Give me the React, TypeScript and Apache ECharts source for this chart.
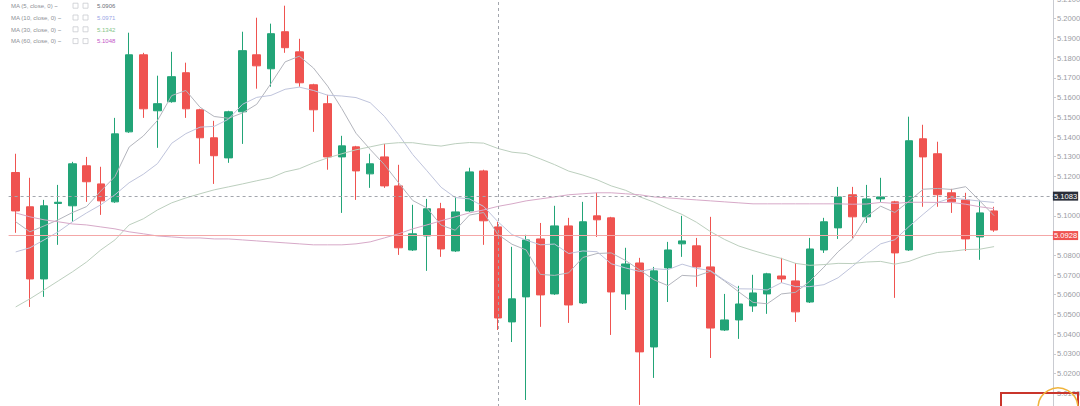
import React, { useEffect, useRef } from "react";
import * as echarts from "echarts";

// ---- data ----
const categories = Array.from({ length: 74 }, (_, i) => `D${i + 1}`);

const opens = [
  5.1220, 5.1046, 5.0680, 5.1063, 5.1051, 5.1254, 5.1162, 5.1071, 5.1426, 5.1817,
  5.1533, 5.1579, 5.1726, 5.1538, 5.1396, 5.1294, 5.1528, 5.1817, 5.1746, 5.1934,
  5.1832, 5.1665, 5.1569, 5.1299, 5.1350, 5.1213, 5.1299, 5.1152, 5.0827, 5.0898,
  5.1036, 5.0822, 5.1025, 5.1228, 5.0944, 5.0462, 5.0589, 5.0883, 5.0604, 5.0949,
  5.0558, 5.1000, 5.0990, 5.0604, 5.0761, 5.0335, 5.0736, 5.0858, 5.0848, 5.0741,
  5.0421, 5.0472, 5.0543, 5.0604, 5.0695, 5.0670, 5.0563, 5.0827, 5.0939, 5.1107,
  5.0995, 5.1086, 5.1071, 5.0827, 5.1391, 5.1315, 5.1117, 5.1081, 5.0893, 5.1025,
];
const closes = [
  5.1025, 5.0680, 5.1051, 5.1069, 5.1264, 5.1173, 5.1076, 5.1416, 5.1817, 5.1543,
  5.1569, 5.1706, 5.1543, 5.1396, 5.1305, 5.1528, 5.1838, 5.1761, 5.1924, 5.1853,
  5.1675, 5.1538, 5.1299, 5.1355, 5.1228, 5.1264, 5.1152, 5.0838, 5.0909, 5.1036,
  5.0832, 5.1020, 5.1223, 5.0975, 5.0482, 5.0579, 5.0878, 5.0599, 5.0949, 5.0548,
  5.0970, 5.0980, 5.0614, 5.0756, 5.0310, 5.0721, 5.0827, 5.0873, 5.0741, 5.0431,
  5.0472, 5.0553, 5.0609, 5.0706, 5.0680, 5.0513, 5.0832, 5.0970, 5.1096, 5.0995,
  5.1086, 5.1096, 5.0812, 5.1381, 5.1299, 5.1107, 5.1071, 5.0883, 5.1015, 5.0928,
];
const lows = [
  5.0914, 5.0538, 5.0589, 5.0853, 5.0970, 5.1071, 5.1005, 5.1066, 5.1421, 5.1497,
  5.1345, 5.1574, 5.1497, 5.1264, 5.1162, 5.1269, 5.1365, 5.1645, 5.1655, 5.1827,
  5.1655, 5.1426, 5.1234, 5.1015, 5.1081, 5.1142, 5.1142, 5.0802, 5.0822, 5.0721,
  5.0792, 5.0817, 5.1020, 5.0853, 5.0421, 5.0360, 5.0066, 5.0437, 5.0599, 5.0457,
  5.0553, 5.0893, 5.0396, 5.0523, 5.0041, 5.0178, 5.0563, 5.0792, 5.0640, 5.0279,
  5.0416, 5.0376, 5.0513, 5.0503, 5.0660, 5.0462, 5.0558, 5.0812, 5.0883, 5.0888,
  5.0964, 5.1071, 5.0584, 5.0822, 5.1046, 5.1046, 5.1015, 5.0822, 5.0777, 5.0919,
];
const highs = [
  5.1315, 5.1193, 5.1081, 5.1157, 5.1274, 5.1299, 5.1249, 5.1497, 5.1929, 5.1827,
  5.1711, 5.1832, 5.1777, 5.1543, 5.1482, 5.1533, 5.1934, 5.2005, 5.1975, 5.2066,
  5.1898, 5.1670, 5.1614, 5.1406, 5.1355, 5.1315, 5.1365, 5.1259, 5.1056, 5.1086,
  5.1066, 5.1096, 5.1244, 5.1234, 5.0970, 5.0843, 5.0904, 5.0964, 5.1051, 5.0990,
  5.1071, 5.1117, 5.0995, 5.0838, 5.0787, 5.0741, 5.0868, 5.1000, 5.0888, 5.0995,
  5.0604, 5.0645, 5.0701, 5.0711, 5.0787, 5.0761, 5.0888, 5.0990, 5.1147, 5.1147,
  5.1157, 5.1193, 5.1076, 5.1503, 5.1462, 5.1376, 5.1137, 5.1117, 5.1081, 5.1046,
];

const ma5 = [
  5.0970, 5.0919, 5.0949, 5.0980, 5.1017, 5.1047, 5.1126, 5.1199, 5.1349, 5.1405,
  5.1484, 5.1610, 5.1636, 5.1551, 5.1504, 5.1495, 5.1522, 5.1566, 5.1671, 5.1781,
  5.1810, 5.1750, 5.1658, 5.1544, 5.1419, 5.1337, 5.1260, 5.1168, 5.1078, 5.1040,
  5.0953, 5.0927, 5.1004, 5.1017, 5.0906, 5.0856, 5.0827, 5.0703, 5.0698, 5.0711,
  5.0789, 5.0809, 5.0812, 5.0774, 5.0726, 5.0676, 5.0646, 5.0698, 5.0694, 5.0719,
  5.0669, 5.0614, 5.0561, 5.0554, 5.0604, 5.0612, 5.0668, 5.0740, 5.0818, 5.0881,
  5.0996, 5.1049, 5.1017, 5.1074, 5.1135, 5.1139, 5.1134, 5.1148, 5.1075, 5.1001,
];
const ma10 = [
  5.0817, 5.0838, 5.0878, 5.0919, 5.0970, 5.1015, 5.1056, 5.1107, 5.1168, 5.1211,
  5.1265, 5.1368, 5.1417, 5.1450, 5.1454, 5.1490, 5.1566, 5.1601, 5.1611, 5.1642,
  5.1653, 5.1636, 5.1612, 5.1608, 5.1600, 5.1574, 5.1505, 5.1413, 5.1311, 5.1229,
  5.1145, 5.1093, 5.1086, 5.1048, 5.0971, 5.0905, 5.0877, 5.0853, 5.0857, 5.0809,
  5.0822, 5.0818, 5.0757, 5.0736, 5.0718, 5.0732, 5.0727, 5.0755, 5.0734, 5.0722,
  5.0673, 5.0630, 5.0629, 5.0624, 5.0661, 5.0641, 5.0641, 5.0651, 5.0686, 5.0743,
  5.0804, 5.0858, 5.0879, 5.0946, 5.1008, 5.1068, 5.1091, 5.1083, 5.1075, 5.1068,
];
const ma30 = [
  5.0538, 5.0579, 5.0624, 5.0670, 5.0716, 5.0766, 5.0827, 5.0878, 5.0954, 5.0985,
  5.1030, 5.1066, 5.1091, 5.1112, 5.1132, 5.1147, 5.1162, 5.1178, 5.1193, 5.1223,
  5.1239, 5.1269, 5.1294, 5.1315, 5.1335, 5.1350, 5.1365, 5.1371, 5.1371, 5.1361,
  5.1354, 5.1366, 5.1372, 5.1369, 5.1342, 5.1323, 5.1316, 5.1289, 5.1260, 5.1227,
  5.1207, 5.1183, 5.1152, 5.1130, 5.1097, 5.1070, 5.1037, 5.1007, 5.0968, 5.0920,
  5.0880, 5.0847, 5.0824, 5.0803, 5.0784, 5.0759, 5.0749, 5.0753, 5.0759, 5.0758,
  5.0766, 5.0769, 5.0755, 5.0769, 5.0796, 5.0814, 5.0820, 5.0829, 5.0831, 5.0844,
];
const ma60 = [
  5.1015, 5.0995, 5.0980, 5.0970, 5.0959, 5.0954, 5.0944, 5.0934, 5.0919, 5.0909,
  5.0898, 5.0893, 5.0888, 5.0888, 5.0883, 5.0883, 5.0878, 5.0873, 5.0868, 5.0863,
  5.0858, 5.0853, 5.0853, 5.0853, 5.0858, 5.0868, 5.0888, 5.0909, 5.0934, 5.0954,
  5.0975, 5.0995, 5.1015, 5.1030, 5.1048, 5.1061, 5.1076, 5.1086, 5.1096, 5.1107,
  5.1112, 5.1117, 5.1117, 5.1112, 5.1107, 5.1096, 5.1091, 5.1086, 5.1081, 5.1076,
  5.1071, 5.1066, 5.1061, 5.1061, 5.1061, 5.1061, 5.1061, 5.1061, 5.1061, 5.1059,
  5.1060, 5.1068, 5.1063, 5.1069, 5.1069, 5.1068, 5.1068, 5.1059, 5.1046, 5.1036,
];

const lastPrice = 5.0928;
const crossPrice = 5.1083;
const crossIndex = 34;
// axis levels hidden behind the two price tags or below the visible area
const hiddenTicks = ["5.1100", "5.0900", "5.0000"];

const legendRows = [
  { label: "MA (5, close, 0)", value: "5.0906", color: "#6b6f7a" },
  { label: "MA (10, close, 0)", value: "5.0971", color: "#9aa6e6" },
  { label: "MA (30, close, 0)", value: "5.1342", color: "#86c58a" },
  { label: "MA (60, close, 0)", value: "5.1048", color: "#c455c8" },
];

const UP = "#22a477";
const DOWN = "#ef5350";
const FONT = "'Liberation Sans', Arial, sans-serif";

export default function App() {
  const ref = useRef<HTMLDivElement>(null);

  useEffect(() => {
    if (!ref.current) return;
    const chart = echarts.init(ref.current, undefined, { renderer: "svg" });

    const candleData = opens.map((o, i) => [o, closes[i], lows[i], highs[i]]);

    const maLine = (name: string, data: number[], color: string) => ({
      name,
      type: "line",
      data,
      symbol: "none",
      smooth: false,
      silent: true,
      z: 3,
      lineStyle: { color, width: 1 },
    });

    const legendGraphics: any[] = [];
    legendRows.forEach((r, i) => {
      const cy = 6 + i * 11.8;
      legendGraphics.push({
        type: "text",
        x: 11,
        y: cy,
        style: {
          text: r.label + " ~",
          fill: "#8d8f96",
          font: `6px ${FONT}`,
          verticalAlign: "middle",
          align: "left",
        },
      });
      legendGraphics.push({
        type: "rect",
        shape: { x: 73, y: cy - 2.8, width: 5, height: 5 },
        style: { fill: "#fff", stroke: "#c9cbd1", lineWidth: 0.8 },
      });
      legendGraphics.push({
        type: "rect",
        shape: { x: 83, y: cy - 2.8, width: 5, height: 5 },
        style: { fill: "#fff", stroke: "#c9cbd1", lineWidth: 0.8 },
      });
      legendGraphics.push({
        type: "text",
        x: 97,
        y: cy,
        style: {
          text: r.value,
          fill: r.color,
          font: `6px ${FONT}`,
          verticalAlign: "middle",
          align: "left",
        },
      });
    });

    chart.setOption({
      animation: false,
      backgroundColor: "#ffffff",
      grid: {
        left: 8.6,
        top: -1,
        width: 1049.3,
        height: 414,
        containLabel: false,
        outerBoundsMode: "none",
      },
      xAxis: {
        type: "category",
        data: categories,
        boundaryGap: true,
        axisLine: { show: false },
        axisTick: { show: false },
        axisLabel: { show: false },
        splitLine: { show: false },
      },
      yAxis: {
        type: "value",
        position: "right",
        offset: -4.9,
        min: 5.0,
        max: 5.21,
        interval: 0.01,
        axisLine: { show: true, lineStyle: { color: "#c9cbd1", width: 1 } },
        axisTick: { show: true, length: 3, lineStyle: { color: "#c9cbd1" } },
        axisLabel: {
          formatter: (v: number) => {
            const s = v.toFixed(4);
            return hiddenTicks.includes(s) ? "" : s;
          },
          fontSize: 7.6,
          color: "#9a9ca3",
          margin: 4,
          fontFamily: FONT,
        },
        splitLine: { show: false },
      },
      series: [
        {
          name: "price",
          type: "candlestick",
          data: candleData,
          barWidth: 8,
          z: 2,
          itemStyle: {
            color: UP,
            color0: DOWN,
            borderColor: UP,
            borderColor0: DOWN,
            borderWidth: 1,
          },
          markLine: {
            silent: true,
            symbol: ["none", "none"],
            animation: false,
            data: [
              {
                yAxis: lastPrice,
                lineStyle: { color: "#f4a7a7", width: 1, type: "solid" },
                label: {
                  show: true,
                  position: "end",
                  distance: -5,
                  formatter: lastPrice.toFixed(4),
                  backgroundColor: DOWN,
                  color: "#ffffff",
                  fontSize: 7.6,
                  fontFamily: FONT,
                  padding: [1, 1, 0, 1],
                },
              },
              {
                yAxis: crossPrice,
                lineStyle: { color: "#a3a6ad", width: 1, type: [3, 3] },
                label: {
                  show: true,
                  position: "end",
                  distance: -5,
                  formatter: crossPrice.toFixed(4),
                  backgroundColor: "#2a2e39",
                  color: "#ffffff",
                  fontSize: 7.6,
                  fontFamily: FONT,
                  padding: [1, 1, 0, 1],
                },
              },
              {
                xAxis: categories[crossIndex],
                lineStyle: { color: "#a3a6ad", width: 1, type: [3, 3] },
                label: { show: false },
              },
            ],
          },
        },
        maLine("MA5", ma5, "#b3b5bd"),
        maLine("MA10", ma10, "#bfc4dc"),
        maLine("MA30", ma30, "#bccfbe"),
        maLine("MA60", ma60, "#d7a9c8"),
      ],
      graphic: [
        ...legendGraphics,
        {
          type: "rect",
          z: 100,
          shape: { x: 1001, y: 393, width: 77, height: 20 },
          style: { fill: "none", stroke: "#c9352b", lineWidth: 2 },
        },
        {
          type: "circle",
          z: 101,
          shape: { cx: 1058, cy: 408, r: 20 },
          style: { fill: "none", stroke: "#f0b43c", lineWidth: 1.5 },
        },
      ],
    });

    return () => chart.dispose();
  }, []);

  return (
    <div
      ref={ref}
      style={{ position: "fixed", left: 0, top: 0, width: 1080, height: 406, background: "#fff" }}
    />
  );
}
